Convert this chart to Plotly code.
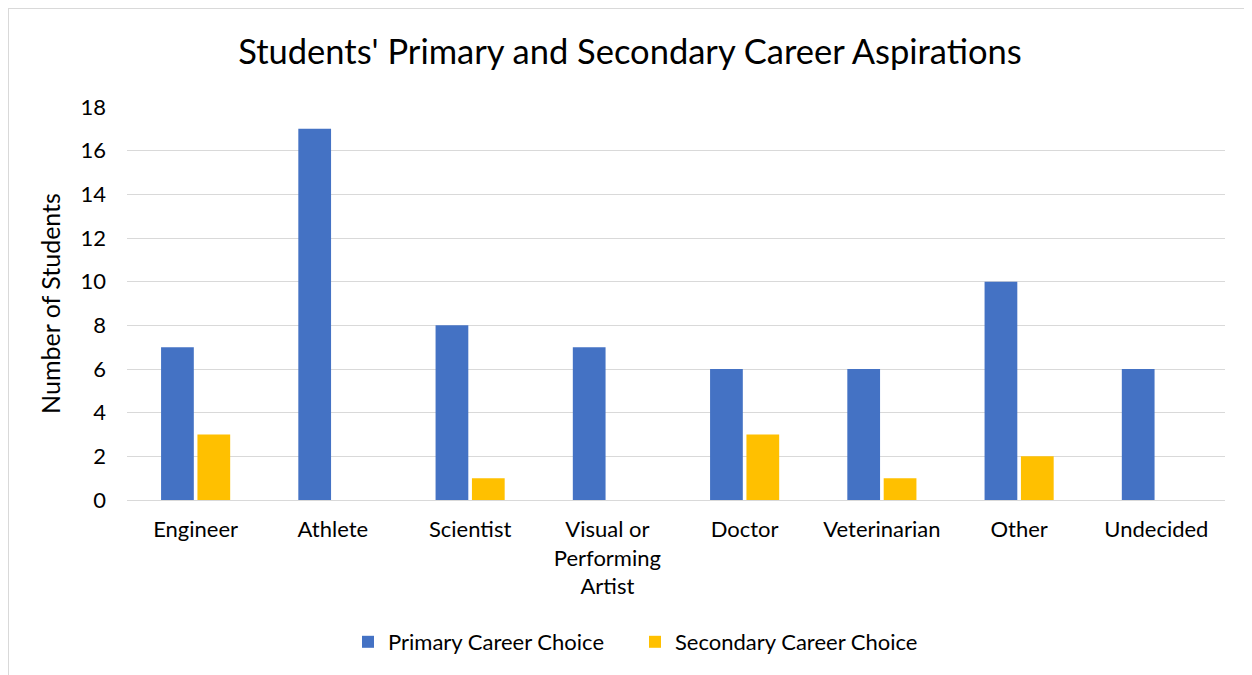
import plotly.graph_objects as go

categories = ["Engineer", "Athlete", "Scientist", "Visual or<br>Performing<br>Artist",
              "Doctor", "Veterinarian", "Other", "Undecided"]
primary = [7, 17, 8, 7, 6, 6, 10, 6]
secondary = [3, 0, 1, 0, 3, 1, 2, 0]

FONT = "Lato, Open Sans, sans-serif"
W, H = 1244, 667  # page body has an 8px margin

fig = go.Figure()
fig.add_trace(go.Bar(x=categories, y=primary, name="Primary Career Choice",
                     marker=dict(color="#4472C4", line=dict(width=0))))
fig.add_trace(go.Bar(x=categories, y=secondary, name="Secondary Career Choice",
                     marker=dict(color="#FFC000", line=dict(width=0))))

fig.update_layout(
    width=W, height=H,
    paper_bgcolor="white", plot_bgcolor="white",
    barmode="group", bargap=0.47, bargroupgap=0.1,
    margin=dict(l=119, r=27, t=99, b=175),
    title=dict(text="Students' Primary and Secondary Career Aspirations",
               x=0.5, xanchor="center", xref="container", y=1 - 44 / H, yref="container",
               yanchor="middle",
               font=dict(family=FONT, size=34.5, color="#000000")),
    font=dict(family=FONT, size=22, color="#000000"),
    legend=dict(orientation="h", x=340 / W, xanchor="left", xref="container",
                y=1 - 634 / H, yref="container", yanchor="middle",
                font=dict(family=FONT, size=22, color="#000000"),
                itemwidth=30, traceorder="normal", entrywidth=242),
    showlegend=True,
)
fig.update_xaxes(showgrid=False, showline=False, ticks="", tickfont=dict(size=22),
                 ticklabelstandoff=14)
fig.update_yaxes(range=[0, 18], dtick=2, tick0=0, showgrid=True, gridcolor="#D9D9D9",
                 gridwidth=1.3, zeroline=True, zerolinecolor="#D9D9D9", zerolinewidth=1.3,
                 showline=False, ticks="", tickfont=dict(size=22),
                 ticklabelstandoff=20,
                 title=dict(text="Number of Students", font=dict(size=25), standoff=12))

# chart border (left and top edges visible)
fig.add_shape(type="line", xref="paper", yref="paper",
              x0=-119 / 1098, x1=1.1, y0=1 + 99 / 393, y1=1 + 99 / 393,
              line=dict(color="#D9D9D9", width=2))
fig.add_shape(type="line", xref="paper", yref="paper",
              x0=-119 / 1098, x1=-119 / 1098, y0=1 + 99 / 393, y1=-0.5,
              line=dict(color="#D9D9D9", width=2))

fig.write_html("out.html")
